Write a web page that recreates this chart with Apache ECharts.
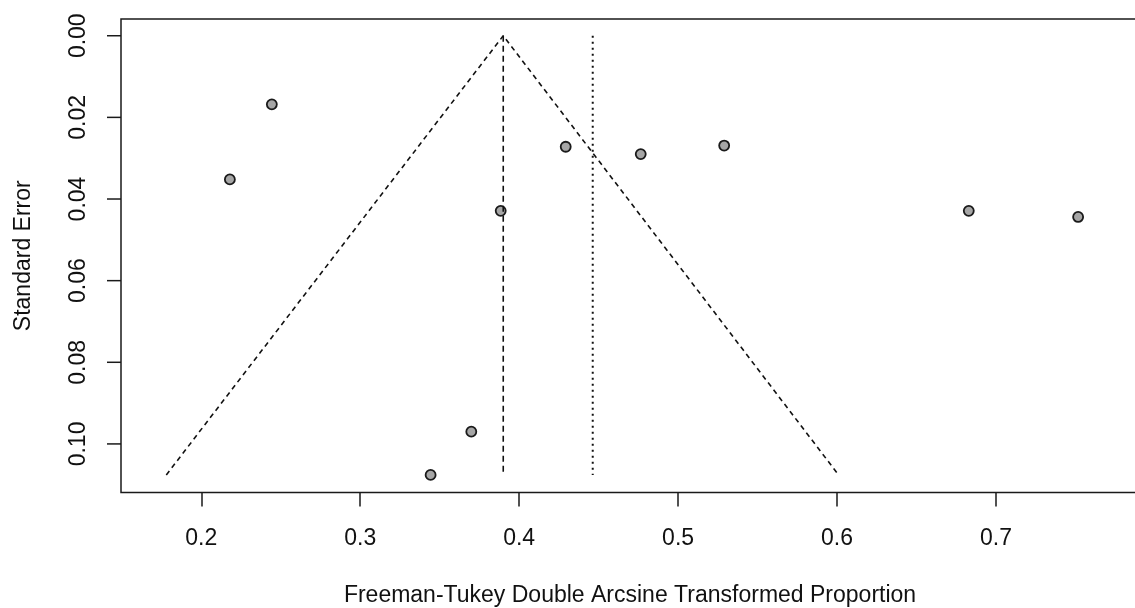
<!DOCTYPE html>
<html>
<head>
<meta charset="utf-8">
<script src="https://cdn.jsdelivr.net/npm/echarts@6/dist/echarts.min.js"></script>
<style>
html,body{margin:0;padding:0;background:#fff;}
#chart{width:1135px;height:608px;}
</style>
</head>
<body>
<div id="chart"></div>
<script>
// Study points
var effectSize = [0.2444, 0.2180, 0.3884, 0.4293, 0.4765, 0.5290, 0.6829, 0.7517, 0.3699, 0.3443];
var stdError   = [0.0168, 0.0352, 0.0429, 0.0272, 0.0290, 0.0269, 0.0429, 0.0444, 0.0970, 0.1076];
// Funnel (pseudo confidence region)
var funnelX = [0.178, 0.390, 0.601];
var funnelY = [0.1076, 0.0, 0.1076];
// Reference lines
var pooledEstimate = 0.390;   // dashed vertical
var otherEstimate  = 0.4463;  // dotted vertical
var refLineSE = [0.0, 0.1076];
// Tick labels
var xTicks = [0.2, 0.3, 0.4, 0.5, 0.6, 0.7];
var yTicks = [0.00, 0.02, 0.04, 0.06, 0.08, 0.10];

var pts = effectSize.map(function(v, i){ return [v, stdError[i]]; });
var funnel = funnelX.map(function(v, i){ return [v, funnelY[i]]; });
var vDash = refLineSE.map(function(s){ return [pooledEstimate, s]; });
var vDot = refLineSE.map(function(s){ return [otherEstimate, s]; });

var xMin = 0.1495, xMax = 0.790;
var yMin = -0.0041, yMax = 0.1119;
var font = 'Liberation Sans, Arial, sans-serif';
var chart = echarts.init(document.getElementById('chart'), null, {renderer:'canvas'});
chart.setOption({
  animation: false,
  backgroundColor: '#fff',
  grid: {
    left: 121, top: 19, width: 1018, height: 473.5,
    show: true, borderColor: '#1a1a1a', borderWidth: 1.5, backgroundColor: 'transparent',
    containLabel: false, outerBoundsMode: 'none'
  },
  xAxis: {
    type: 'value', min: xMin, max: xMax, position: 'bottom',
    axisLine: {show: false, onZero: false},
    splitLine: {show: false},
    axisTick: {show: true, inside: false, length: 14, customValues: xTicks, lineStyle: {color: '#1a1a1a', width: 1.5}},
    axisLabel: {show: true, customValues: xTicks, margin: 35, fontSize: 23, fontFamily: font, color: '#111',
      formatter: function(v){ return v.toFixed(1); }},
    name: 'Freeman-Tukey Double Arcsine Transformed Proportion',
    nameLocation: 'middle', nameGap: 92,
    nameTextStyle: {fontSize: 23, fontFamily: font, color: '#111'}
  },
  yAxis: {
    type: 'value', inverse: true, min: yMin, max: yMax, position: 'left',
    axisLine: {show: false, onZero: false},
    splitLine: {show: false},
    axisTick: {show: false},
    axisLabel: {show: true, customValues: yTicks, rotate: 90, margin: 0,
      fontSize: 23, fontFamily: font, color: '#111',
      // label text plus its tick mark (second line, toward the axis)
      formatter: function(v){ return '{a|' + v.toFixed(2) + '}\n{t| }'; },
      rich: {
        a: {fontSize: 23, fontFamily: font, color: '#111', lineHeight: 57, align: 'center'},
        t: {fontSize: 1, width: 1.5, height: 14, lineHeight: 14, backgroundColor: '#1a1a1a', align: 'center'}
      }
    },
    name: 'Standard Error',
    nameLocation: 'middle', nameGap: 86, nameRotate: 90,
    nameTextStyle: {fontSize: 23, fontFamily: font, color: '#111'}
  },
  series: [
    {
      type: 'line', data: funnel, symbol: 'none', silent: true,
      lineStyle: {color: '#111', width: 1.6, type: [5, 4]}
    },
    {
      type: 'line', data: vDash, symbol: 'none', silent: true,
      lineStyle: {color: '#111', width: 1.6, type: [6, 4]}
    },
    {
      type: 'line', data: vDot, symbol: 'none', silent: true,
      lineStyle: {color: '#111', width: 2, type: [2, 4]}
    },
    {
      type: 'scatter', data: pts, symbol: 'circle', symbolSize: 10,
      itemStyle: {color: '#a6a6a6', borderColor: '#1a1a1a', borderWidth: 1.8, opacity: 1}
    }
  ]
});
</script>
</body>
</html>
